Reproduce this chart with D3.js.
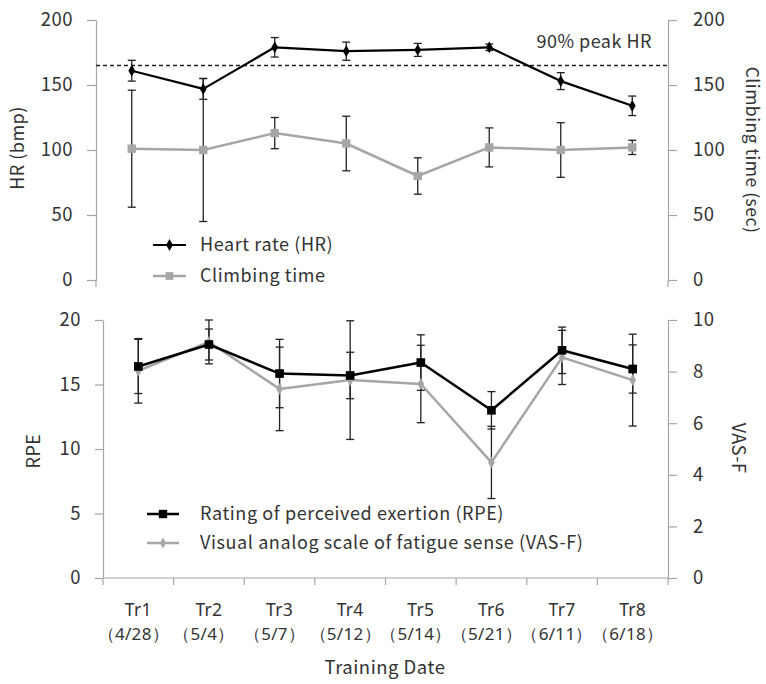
<!DOCTYPE html>
<html>
<head>
<meta charset="utf-8">
<script src="https://cdn.jsdelivr.net/npm/d3@7"></script>
<style>
  html, body { margin: 0; padding: 0; background: #fff; }
  svg { display: block; }
  text { font-family: "Noto Sans CJK JP", "Noto Sans", sans-serif; fill: #333; }
  text.cat { font-family: "Noto Sans", sans-serif; }
</style>
</head>
<body>
<svg id="chart" width="766" height="684"></svg>
<script>
// ---------- data ----------
const categories = ["Tr1", "Tr2", "Tr3", "Tr4", "Tr5", "Tr6", "Tr7", "Tr8"];
const dates = ["（4/28）", "（5/4）", "（5/7）", "（5/12）", "（5/14）", "（5/21）", "（6/11）", "（6/18）"];
const hr = [161, 147, 179, 176, 177, 179, 153, 134];
const hrErr = [8, 8, 7.5, 7, 5, 2.5, 6.5, 7.5];
const climb = [101, 100, 113, 105, 80, 102, 100, 102];
const climbErr = [45, 55, 12, 21, 14, 15, 21, 5.5];
const peakHR = 165;
const rpe = [16.4, 18.1, 15.85, 15.7, 16.7, 13.0, 17.65, 16.2];
const rpeErr = [2.1, 1.2, 2.65, 1.8, 2.15, 1.45, 1.8, 1.87];
const vas = [8.03, 9.15, 7.33, 7.67, 7.52, 4.48, 8.55, 7.67];
const vasErr = [1.25, 0.85, 1.62, 2.3, 1.5, 1.4, 1.05, 1.78];
const hrTicks = [0, 50, 100, 150, 200];
const rpeTicks = [0, 5, 10, 15, 20];
const vasTicks = [0, 2, 4, 6, 8, 10];

(function () {
const svg = d3.select("#chart");
const axisColor = "#a6a6a6";
const grayLine = "#a6a6a6";
const errColor = "#222";
const fontSize = 18.5;

// ---------- scales ----------
const xTop = d3.scaleBand().domain(categories).range([96, 668]);
const xBot = d3.scaleBand().domain(categories).range([103, 668]);
const yHR = d3.scaleLinear().domain([0, 200]).range([280, 20]);
const yCT = d3.scaleLinear().domain([0, 200]).range([280, 20]);
const yRPE = d3.scaleLinear().domain([0, 20]).range([578, 320]);
const yVAS = d3.scaleLinear().domain([0, 10]).range([578, 320]);

function styleAxis(g) {
  g.selectAll("path.domain").attr("stroke", axisColor).attr("stroke-width", 1.2);
  g.selectAll(".tick line").attr("stroke", axisColor).attr("stroke-width", 1.2);
  g.selectAll(".tick text").attr("font-size", fontSize).attr("fill", "#333")
    .style("font-family", '"Noto Sans CJK JP", "Noto Sans", sans-serif').style("letter-spacing", "0.5px");
}

// ---------- top panel axes ----------
const gL1 = svg.append("g").attr("transform", "translate(96,0)")
  .call(d3.axisLeft(yHR).tickValues(hrTicks).tickSize(9).tickSizeOuter(0).tickPadding(14));
styleAxis(gL1);
const gR1 = svg.append("g").attr("transform", "translate(668,0)")
  .call(d3.axisRight(yCT).tickValues(hrTicks).tickSize(9).tickSizeOuter(0).tickPadding(16));
styleAxis(gR1);
svg.append("line").attr("x1", 96).attr("x2", 96).attr("y1", yHR(0)).attr("y2", yHR(0) + 7).attr("stroke", axisColor).attr("stroke-width", 1.2);
svg.append("line").attr("x1", 668).attr("x2", 668).attr("y1", yCT(0)).attr("y2", yCT(0) + 7).attr("stroke", axisColor).attr("stroke-width", 1.2);

// ---------- bottom panel axes ----------
const gL2 = svg.append("g").attr("transform", "translate(103,0)")
  .call(d3.axisLeft(yRPE).tickValues(rpeTicks).tickSize(8).tickSizeOuter(0).tickPadding(14));
styleAxis(gL2);
const gR2 = svg.append("g").attr("transform", "translate(668,0)")
  .call(d3.axisRight(yVAS).tickValues(vasTicks).tickSize(9).tickSizeOuter(0).tickPadding(16));
styleAxis(gR2);

const gX = svg.append("g");
gX.append("line").attr("x1", xBot.range()[0]).attr("x2", xBot.range()[1])
  .attr("y1", yRPE(0)).attr("y2", yRPE(0)).attr("stroke", axisColor).attr("stroke-width", 1.2);
const bounds = categories.map(c => xBot(c)).concat([xBot.range()[1]]);
gX.selectAll("line.bt").data(bounds).join("line").attr("class", "bt")
  .attr("x1", d => d).attr("x2", d => d)
  .attr("y1", yRPE(0)).attr("y2", yRPE(0) + 7)
  .attr("stroke", axisColor).attr("stroke-width", 1.2);
gX.selectAll("text.cat1").data(categories).join("text").attr("class", "cat cat1")
  .attr("x", d => xBot(d) + xBot.bandwidth() / 2).attr("y", 616)
  .attr("text-anchor", "middle").attr("font-size", 17.5).style("letter-spacing", "0.3px")
  .text(d => d);
gX.selectAll("text.cat2").data(categories).join("text").attr("class", "cat cat2")
  .attr("x", d => xBot(d) + xBot.bandwidth() / 2 - 5).attr("y", 640)
  .attr("text-anchor", "middle").attr("font-size", 17).style("letter-spacing", "0.3px")
  .text((d, i) => dates[i]);
svg.append("text").attr("x", 385).attr("y", 674).attr("text-anchor", "middle")
  .attr("font-size", fontSize).style("letter-spacing", "0.5px").text("Training Date");

// ---------- axis titles ----------
svg.append("text").attr("transform", "translate(24,148) rotate(-90)").attr("text-anchor", "middle")
  .attr("font-size", 18).style("letter-spacing", "0.5px").text("HR (bmp)");
svg.append("text").attr("transform", "translate(746,150) rotate(90)").attr("text-anchor", "middle")
  .attr("font-size", 17.5).style("letter-spacing", "0.5px").text("Climbing time (sec)");
svg.append("text").attr("transform", "translate(40,451) rotate(-90)").attr("text-anchor", "middle")
  .attr("font-size", 18).style("letter-spacing", "0.5px").text("RPE");
svg.append("text").attr("transform", "translate(732,448) rotate(90)").attr("text-anchor", "middle")
  .attr("font-size", 18).style("letter-spacing", "0.5px").text("VAS-F");

// ---------- helpers ----------
function errorBars(g, xs, vals, errs, yS, capW) {
  const data = vals.map((v, i) => ({ x: xs(categories[i]) + xs.bandwidth() / 2, lo: v - errs[i], hi: v + errs[i] }));
  const sel = g.append("g");
  sel.selectAll("line.v").data(data).join("line").attr("class", "v")
    .attr("x1", d => d.x).attr("x2", d => d.x)
    .attr("y1", d => yS(Math.min(d.hi, yS.domain()[1]))).attr("y2", d => yS(d.lo))
    .attr("stroke", errColor).attr("stroke-width", 1.3);
  ["hi", "lo"].forEach(k => {
    sel.selectAll("line.c" + k).data(data.filter(d => d[k] <= yS.domain()[1])).join("line").attr("class", "c" + k)
      .attr("x1", d => d.x - capW / 2).attr("x2", d => d.x + capW / 2)
      .attr("y1", d => yS(d[k])).attr("y2", d => yS(d[k]))
      .attr("stroke", errColor).attr("stroke-width", 1.3);
  });
}
function series(g, xs, vals, yS, color, width) {
  const line = d3.line().x((d, i) => xs(categories[i]) + xs.bandwidth() / 2).y(d => yS(d));
  g.append("path").datum(vals).attr("d", line).attr("fill", "none")
    .attr("stroke", color).attr("stroke-width", width).attr("stroke-linejoin", "round");
}
function markers(g, xs, vals, yS, type, size, color) {
  const sym = d3.symbol().type(type).size(size);
  g.append("g").selectAll("path").data(vals).join("path")
    .attr("transform", (d, i) => `translate(${xs(categories[i]) + xs.bandwidth() / 2},${yS(d)})`)
    .attr("d", sym).attr("fill", color);
}

// ---------- top panel ----------
const topG = svg.append("g");
topG.append("line").attr("x1", xTop.range()[0]).attr("x2", xTop.range()[1])
  .attr("y1", yHR(peakHR)).attr("y2", yHR(peakHR))
  .attr("stroke", "#222").attr("stroke-width", 1.3).attr("stroke-dasharray", "4,3");
topG.append("text").attr("x", 652).attr("y", 48).attr("text-anchor", "end")
  .attr("font-size", 18).style("letter-spacing", "0.5px").text("90% peak HR");

series(topG, xTop, climb, yCT, grayLine, 2.5);
errorBars(topG, xTop, climb, climbErr, yCT, 8);
markers(topG, xTop, climb, yCT, d3.symbolSquare, 70, grayLine);
series(topG, xTop, hr, yHR, "#000", 2.2);
errorBars(topG, xTop, hr, hrErr, yHR, 8);
markers(topG, xTop, hr, yHR, d3.symbolDiamond, 40, "#000");

// ---------- bottom panel ----------
const botG = svg.append("g");
series(botG, xBot, vas, yVAS, grayLine, 2.5);
series(botG, xBot, rpe, yRPE, "#000", 2.5);
errorBars(botG, xBot, vas, vasErr, yVAS, 8);
errorBars(botG, xBot, rpe, rpeErr, yRPE, 8);
markers(botG, xBot, vas, yVAS, d3.symbolDiamond, 40, grayLine);
markers(botG, xBot, rpe, yRPE, d3.symbolSquare, 75, "#000");

// ---------- legends ----------
function legendItem(x1, x2, y, color, type, size, label, lw) {
  const g = svg.append("g");
  g.append("line").attr("x1", x1).attr("x2", x2).attr("y1", y).attr("y2", y)
    .attr("stroke", color).attr("stroke-width", lw);
  g.append("path").attr("transform", `translate(${(x1 + x2) / 2},${y})`)
    .attr("d", d3.symbol().type(type).size(size)).attr("fill", color);
  g.append("text").attr("x", 200).attr("y", y).attr("dy", "0.36em")
    .attr("font-size", 18).style("letter-spacing", "0.6px").text(label);
}
legendItem(153, 186, 245, "#000", d3.symbolDiamond, 40, "Heart rate (HR)", 2.2);
legendItem(153, 186, 276, grayLine, d3.symbolSquare, 60, "Climbing time", 2.5);
legendItem(147, 179, 514, "#000", d3.symbolSquare, 70, "Rating of perceived exertion (RPE)", 2.5);
legendItem(147, 179, 543, grayLine, d3.symbolDiamond, 35, "Visual analog scale of fatigue sense (VAS-F)", 2.5);
})();
</script>
</body>
</html>
